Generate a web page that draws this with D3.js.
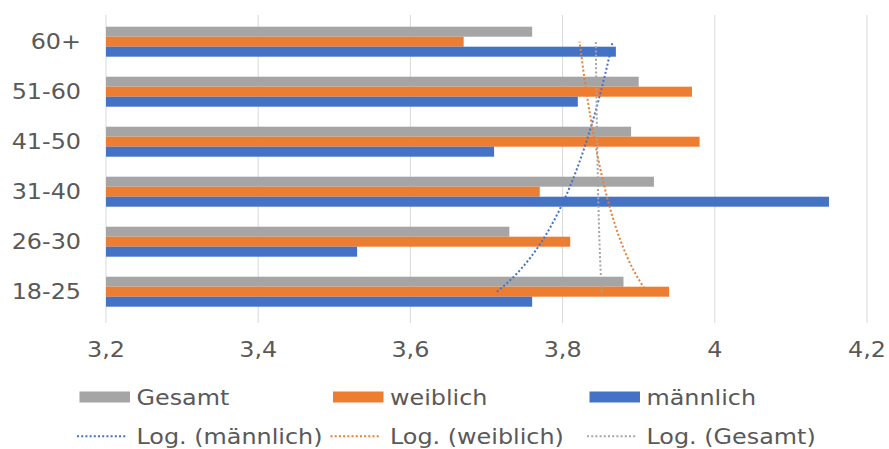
<!DOCTYPE html>
<html>
<head>
<meta charset="utf-8">
<script src="https://cdn.jsdelivr.net/npm/d3@7"></script>
<style>
  html, body { margin: 0; padding: 0; background: #fff; }
  svg { display: block; }
  text { font-family: "DejaVu Sans", Verdana, sans-serif; fill: #595959; }
</style>
</head>
<body>
<svg id="chart" width="889" height="449"></svg>
<script>
// ---- data ----
const categories = ["18-25", "26-30", "31-40", "41-50", "51-60", "60+"];
const gesamt    = [3.88, 3.73, 3.92, 3.89, 3.90, 3.76];
const weiblich  = [3.94, 3.81, 3.77, 3.98, 3.97, 3.67];
const maennlich = [3.76, 3.53, 4.15, 3.71, 3.82, 3.87];
const seriesNames = ["Gesamt", "weiblich", "männlich"];
const trendNames = ["Log. (männlich)", "Log. (weiblich)", "Log. (Gesamt)"];
const xTicks = [3.2, 3.4, 3.6, 3.8, 4.0, 4.2];

const colors = { "Gesamt": "#A5A5A5", "weiblich": "#ED7D31", "männlich": "#4472C4" };
const seriesValues = { "Gesamt": gesamt, "weiblich": weiblich, "männlich": maennlich };

const svg = d3.select("#chart");
const SX = 1.11;   // horizontal stretch of the reference text
const FS = 21.5;

function label(g, x, y, str, anchor) {
  return g.append("text")
    .attr("transform", `translate(${x},${y}) scale(${SX},1)`)
    .attr("text-anchor", anchor || "start")
    .style("font-size", FS + "px")
    .text(str);
}

// ---- scales ----
const x = d3.scaleLinear().domain([3.2, 4.2]).range([106, 867]);
const y0 = d3.scaleBand().domain(categories.slice().reverse())
  .range([16.7, 316.7]).paddingInner(0.4).paddingOuter(0.2);
const y1 = d3.scaleBand().domain(seriesNames).range([0, y0.bandwidth()]);

// ---- gridlines ----
svg.append("g").selectAll("line").data(xTicks).join("line")
  .attr("x1", d => x(d)).attr("x2", d => x(d))
  .attr("y1", 15).attr("y2", 323)
  .attr("stroke", "#D9D9D9").attr("stroke-width", 1);

// ---- x tick labels ----
const fmt = v => d3.format("~g")(v).replace(".", ",");
const xt = svg.append("g");
xTicks.forEach(t => label(xt, x(t), 357, fmt(t), "middle"));

// ---- y category labels ----
const yl = svg.append("g");
categories.forEach(c => label(yl, 81, y0(c) + y0.bandwidth() / 2 + 7.5, c, "end"));

// ---- bars ----
const barsG = svg.append("g");
seriesNames.forEach(s => {
  barsG.append("g").selectAll("rect").data(categories.map((c, i) => ({ c, v: seriesValues[s][i] })))
    .join("rect")
    .attr("x", x(3.2))
    .attr("y", d => y0(d.c) + y1(s))
    .attr("width", d => x(d.v) - x(3.2))
    .attr("height", y1.bandwidth())
    .attr("fill", colors[s]);
});

// ---- logarithmic trendlines (least squares fit y = a*ln(t) + b, t = 1..n) ----
function logFit(vals) {
  const lx = vals.map((_, i) => Math.log(i + 1));
  const mx = d3.mean(lx), my = d3.mean(vals);
  let sxy = 0, sxx = 0;
  lx.forEach((l, i) => { sxy += (l - mx) * (vals[i] - my); sxx += (l - mx) * (l - mx); });
  const a = sxy / sxx, b = my - a * mx;
  return t => a * Math.log(t) + b;
}
const center = c => y0(c) + y0.bandwidth() / 2;
const tY = d3.scaleLinear().domain([1, categories.length])
  .range([center(categories[0]), center(categories[categories.length - 1])]);
const tSamples = d3.range(1, categories.length + 0.0001, 0.05);
const trendG = svg.append("g");
["männlich", "weiblich", "Gesamt"].forEach(s => {
  const f = logFit(seriesValues[s]);
  const line = d3.line().x(t => x(f(t))).y(t => tY(t));
  trendG.append("path")
    .attr("d", line(tSamples))
    .attr("fill", "none")
    .attr("stroke", colors[s])
    .attr("stroke-width", 2)
    .attr("stroke-dasharray", "2,2.2");
});

// ---- legend ----
const lg = svg.append("g");
const legX = [79.5, 333, 589.5];
seriesNames.forEach((s, i) => {
  lg.append("rect").attr("x", legX[i]).attr("y", 391.5).attr("width", 50.5).attr("height", 11)
    .attr("fill", colors[s]);
  label(lg, legX[i] + 57, 405, s);
});
const trendSeries = ["männlich", "weiblich", "Gesamt"];
trendNames.forEach((n, i) => {
  lg.append("line")
    .attr("x1", legX[i] - 2.5).attr("x2", legX[i] + 47.5)
    .attr("y1", 436.2).attr("y2", 436.2)
    .attr("stroke", colors[trendSeries[i]]).attr("stroke-width", 2)
    .attr("stroke-dasharray", "2,2.2");
  label(lg, legX[i] + 57, 443.5, n);
});
</script>
</body>
</html>
